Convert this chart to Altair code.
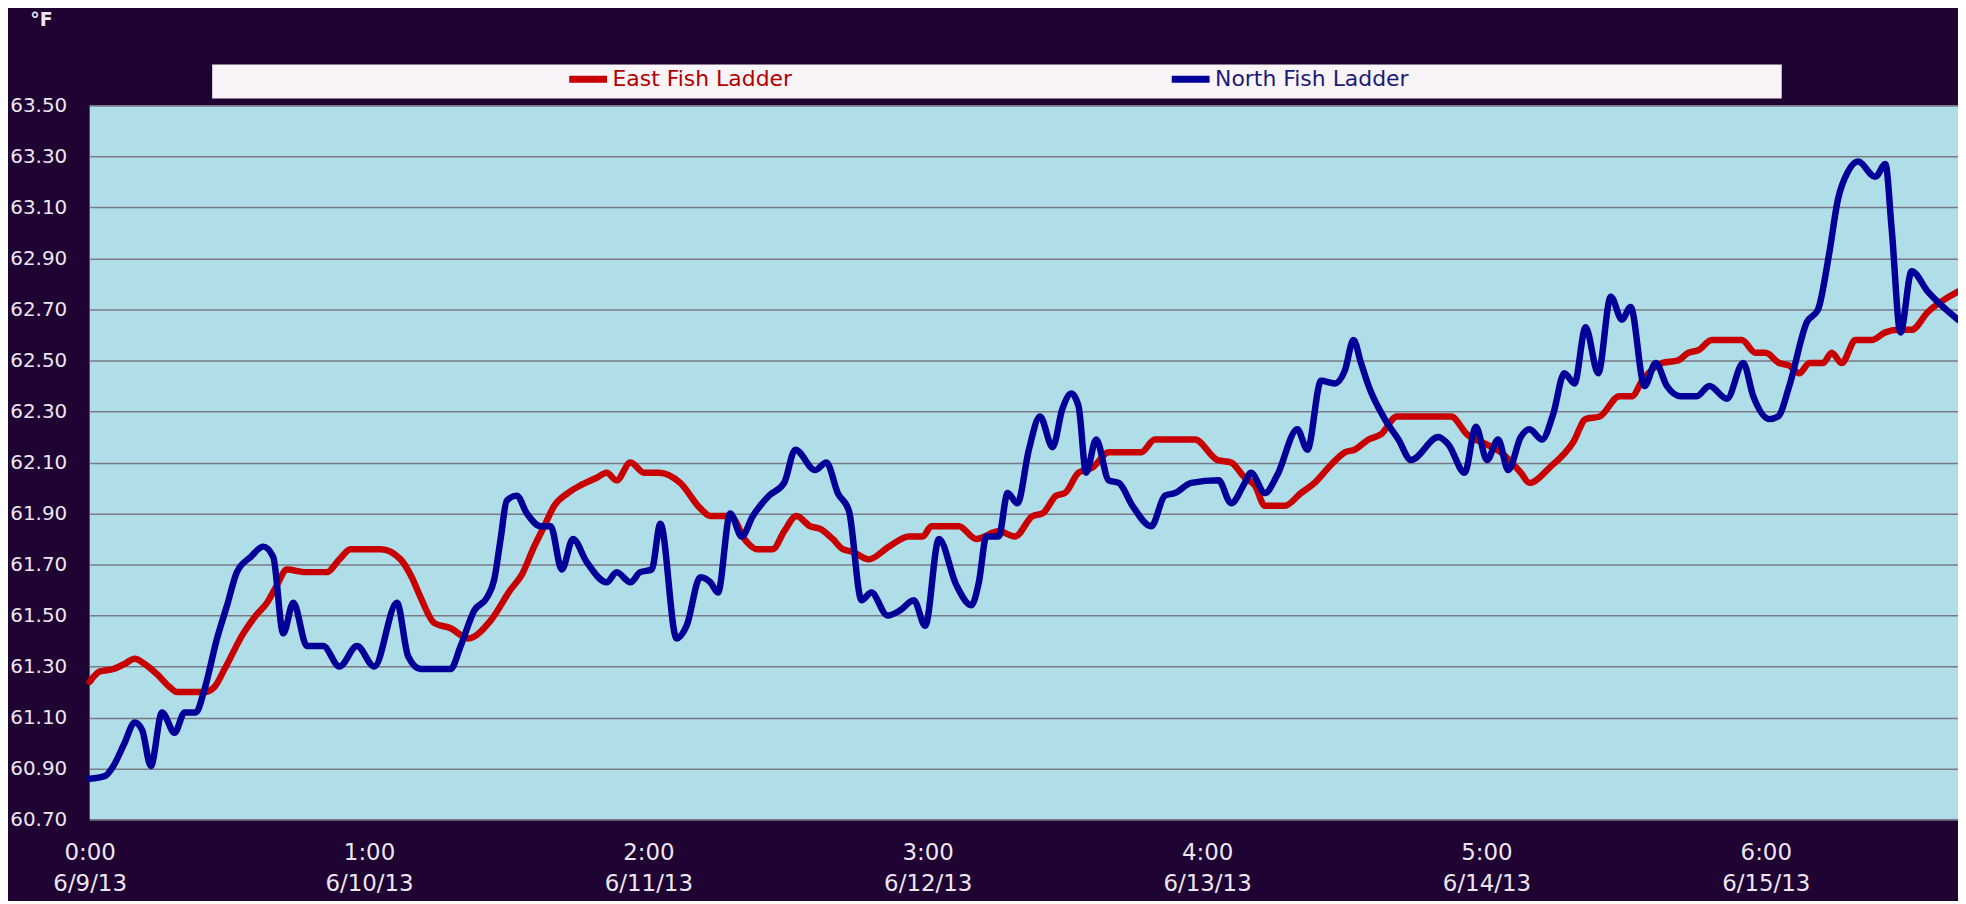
import altair as alt
import pandas as pd

# ---- data (x in days since 6/9/13 0:00, y in °F) ----
east_x = [0.000, 0.036, 0.085, 0.125, 0.161, 0.197, 0.241, 0.286, 0.313, 0.411,
          0.447, 0.483, 0.550, 0.595, 0.635, 0.671, 0.706, 0.773, 0.849, 0.894,
          0.934, 1.042, 1.113, 1.153, 1.185, 1.234, 1.292, 1.355, 1.435, 1.506,
          1.547, 1.591, 1.627, 1.663, 1.712, 1.757, 1.815, 1.851, 1.886, 1.936,
          1.985, 2.038, 2.114, 2.186, 2.222, 2.293, 2.351, 2.387, 2.445, 2.486,
          2.530, 2.579, 2.615, 2.660, 2.696, 2.731, 2.789, 2.861, 2.933, 2.982,
          3.013, 3.111, 3.174, 3.254, 3.313, 3.375, 3.411, 3.460, 3.491, 3.540,
          3.590, 3.648, 3.764, 3.813, 3.956, 4.037, 4.086, 4.135, 4.171, 4.207,
          4.278, 4.336, 4.385, 4.443, 4.493, 4.528, 4.578, 4.622, 4.680, 4.873,
          4.931, 5.002, 5.051, 5.123, 5.154, 5.226, 5.311, 5.355, 5.405, 5.476,
          5.521, 5.557, 5.628, 5.686, 5.722, 5.758, 5.807, 5.914, 5.963, 5.999,
          6.048, 6.084, 6.120, 6.156, 6.205, 6.236, 6.272, 6.321, 6.379, 6.428,
          6.473, 6.522, 6.580, 6.688]
east_y = [61.24, 61.28, 61.29, 61.31, 61.33, 61.31, 61.27, 61.22, 61.20, 61.20,
          61.22, 61.29, 61.43, 61.50, 61.55, 61.62, 61.68, 61.67, 61.67, 61.72,
          61.76, 61.76, 61.72, 61.65, 61.57, 61.47, 61.45, 61.41, 61.48, 61.60,
          61.66, 61.77, 61.85, 61.93, 61.98, 62.01, 62.04, 62.06, 62.03, 62.10,
          62.06, 62.06, 62.02, 61.92, 61.89, 61.89, 61.79, 61.76, 61.76, 61.83,
          61.89, 61.85, 61.84, 61.80, 61.76, 61.75, 61.72, 61.77, 61.81, 61.81,
          61.85, 61.85, 61.80, 61.83, 61.81, 61.89, 61.90, 61.97, 61.98, 62.06,
          62.08, 62.14, 62.14, 62.19, 62.19, 62.11, 62.10, 62.04, 62.01, 61.93,
          61.93, 61.98, 62.02, 62.09, 62.14, 62.15, 62.19, 62.21, 62.28, 62.28,
          62.21, 62.17, 62.14, 62.06, 62.02, 62.08, 62.18, 62.27, 62.28, 62.36,
          62.36, 62.42, 62.49, 62.50, 62.53, 62.54, 62.58, 62.58, 62.53, 62.53,
          62.49, 62.48, 62.45, 62.49, 62.49, 62.53, 62.49, 62.58, 62.58, 62.61,
          62.62, 62.62, 62.69, 62.77]

north_x = [0.000, 0.054, 0.085, 0.125, 0.161, 0.188, 0.219, 0.259, 0.304, 0.340,
           0.380, 0.411, 0.456, 0.492, 0.527, 0.577, 0.621, 0.657, 0.693, 0.729,
           0.778, 0.836, 0.894, 0.957, 1.019, 1.100, 1.140, 1.185, 1.292, 1.328,
           1.377, 1.422, 1.448, 1.471, 1.493, 1.529, 1.565, 1.614, 1.650, 1.690,
           1.730, 1.779, 1.851, 1.886, 1.936, 1.971, 2.012, 2.043, 2.101, 2.137,
           2.186, 2.222, 2.249, 2.293, 2.334, 2.374, 2.432, 2.486, 2.526, 2.597,
           2.637, 2.678, 2.718, 2.763, 2.798, 2.856, 2.901, 2.950, 2.991, 3.040,
           3.102, 3.156, 3.183, 3.210, 3.254, 3.286, 3.321, 3.362, 3.402, 3.447,
           3.482, 3.514, 3.540, 3.567, 3.603, 3.648, 3.684, 3.733, 3.800, 3.849,
           3.885, 3.943, 4.041, 4.086, 4.135, 4.157, 4.207, 4.251, 4.323, 4.359,
           4.408, 4.457, 4.493, 4.524, 4.551, 4.578, 4.636, 4.685, 4.730, 4.828,
           4.864, 4.922, 4.962, 5.002, 5.042, 5.078, 5.123, 5.154, 5.199, 5.239,
           5.279, 5.315, 5.355, 5.400, 5.445, 5.485, 5.516, 5.566, 5.606, 5.646,
           5.695, 5.753, 5.798, 5.861, 5.919, 5.955, 6.013, 6.044, 6.084, 6.147,
           6.187, 6.227, 6.258, 6.294, 6.330, 6.392, 6.428, 6.451, 6.482, 6.522,
           6.580, 6.688]
north_y = [60.86, 60.87, 60.91, 61.00, 61.08, 61.05, 60.91, 61.12, 61.04, 61.12,
           61.12, 61.21, 61.41, 61.54, 61.67, 61.73, 61.77, 61.73, 61.43, 61.55,
           61.38, 61.38, 61.30, 61.38, 61.30, 61.55, 61.34, 61.29, 61.29, 61.38,
           61.52, 61.57, 61.64, 61.80, 61.95, 61.97, 61.90, 61.85, 61.85, 61.68,
           61.80, 61.71, 61.63, 61.67, 61.63, 61.67, 61.68, 61.86, 61.41, 61.46,
           61.65, 61.63, 61.59, 61.90, 61.81, 61.89, 61.97, 62.02, 62.15, 62.07,
           62.10, 61.98, 61.91, 61.56, 61.59, 61.50, 61.52, 61.56, 61.46, 61.80,
           61.62, 61.54, 61.63, 61.81, 61.81, 61.98, 61.94, 62.15, 62.28, 62.16,
           62.31, 62.37, 62.32, 62.06, 62.19, 62.03, 62.02, 61.93, 61.85, 61.97,
           61.98, 62.02, 62.03, 61.94, 62.02, 62.06, 61.98, 62.05, 62.23, 62.15,
           62.42, 62.41, 62.46, 62.58, 62.49, 62.40, 62.27, 62.19, 62.11, 62.20,
           62.17, 62.06, 62.24, 62.11, 62.19, 62.07, 62.20, 62.23, 62.19, 62.29,
           62.45, 62.41, 62.63, 62.45, 62.75, 62.66, 62.71, 62.40, 62.49, 62.40,
           62.36, 62.36, 62.40, 62.35, 62.49, 62.36, 62.27, 62.28, 62.40, 62.65,
           62.70, 62.92, 63.13, 63.24, 63.28, 63.22, 63.27, 63.01, 62.61, 62.85,
           62.77, 62.66]

series_names = ["East Fish Ladder", "North Fish Ladder"]
series_colors = ["#c80000", "#000099"]
label_colors = ["#b30000", "#1c1c78"]

y_ticks = [60.70, 60.90, 61.10, 61.30, 61.50, 61.70, 61.90, 62.10, 62.30,
           62.50, 62.70, 62.90, 63.10, 63.30, 63.50]
x_tick_days = [0, 1, 2, 3, 4, 5, 6]
x_tick_times = ["0:00", "1:00", "2:00", "3:00", "4:00", "5:00", "6:00"]
x_tick_dates = ["6/9/13", "6/10/13", "6/11/13", "6/12/13", "6/13/13", "6/14/13", "6/15/13"]
x_end = 6.688

# ---- build table ----
df = pd.concat([
    pd.DataFrame({"day": east_x, "temp": east_y, "series": series_names[0]}),
    pd.DataFrame({"day": north_x, "temp": north_y, "series": series_names[1]}),
], ignore_index=True)

label_pairs = ",".join(f"['{t}','{d}']" for t, d in zip(x_tick_times, x_tick_dates))
x_label_expr = f"[{label_pairs}][datum.value]"

light = "#eee6f2"
font = "DejaVu Sans"

color_scale = alt.Scale(domain=series_names, range=series_colors)

x_enc = alt.X("day:Q",
              scale=alt.Scale(domain=[0, x_end], nice=False, zero=False),
              axis=alt.Axis(values=x_tick_days, labelExpr=x_label_expr,
                            title=None, grid=False, ticks=False, domain=False,
                            labelFlush=False, labelFont=font, labelFontSize=23,
                            labelColor=light, labelPadding=22, labelLineHeight=31,
                            labelOverlap=False))
y_enc = alt.Y("temp:Q",
              scale=alt.Scale(domain=[60.7, 63.5], nice=False, zero=False),
              axis=alt.Axis(values=y_ticks, format=".2f", title="°F",
                            titleAngle=0, titleX=-49, titleY=-86,
                            titleAlign="center", titleBaseline="middle",
                            titleFont=font, titleFontSize=19, titleFontWeight="bold",
                            titleColor=light,
                            grid=True, gridColor="#7a7a86", gridWidth=1.5,
                            ticks=False, domain=False,
                            labelFont=font, labelFontSize=20, labelColor=light,
                            labelPadding=23, labelOverlap=False))

legend = alt.Legend(title=None, orient="none", legendX=478, legendY=-49,
                    direction="horizontal", symbolType="stroke", symbolSize=1444,
                    symbolStrokeWidth=7, labelFont=font, labelFontSize=22,
                    labelOffset=2, labelLimit=500, columnPadding=366, padding=0,
                    labelColor={"expr": f"datum.label == '{series_names[0]}' ? '{label_colors[0]}' : '{label_colors[1]}'"})

legend_box = alt.Chart(pd.DataFrame({"box": [0]})).mark_rect(
    color="#f8f4f8"
).encode(x=alt.value(123), x2=alt.value(1699), y=alt.value(-41), y2=alt.value(-7))

base = alt.Chart(df)
east = base.transform_filter(alt.datum.series == series_names[0]).mark_line(
    strokeWidth=6.5, interpolate="monotone", strokeCap="round", strokeJoin="round"
).encode(x=x_enc, y=y_enc,
         color=alt.Color("series:N", scale=color_scale, legend=legend))
north = base.transform_filter(alt.datum.series == series_names[1]).mark_line(
    strokeWidth=6.5, interpolate="monotone", strokeCap="round", strokeJoin="round"
).encode(x=x_enc, y=y_enc,
         color=alt.Color("series:N", scale=color_scale, legend=legend))

chart = alt.layer(legend_box, east, north).properties(
    width=1876, height=717,
    autosize=alt.AutoSizeParams(type="none"),
    padding={"left": 82, "top": 96, "right": 0, "bottom": 80},
    background="#1e0333",
).configure_view(fill="#afdee9", stroke=None)

chart.save("out.html", embed_options={"renderer": "svg", "actions": False})
